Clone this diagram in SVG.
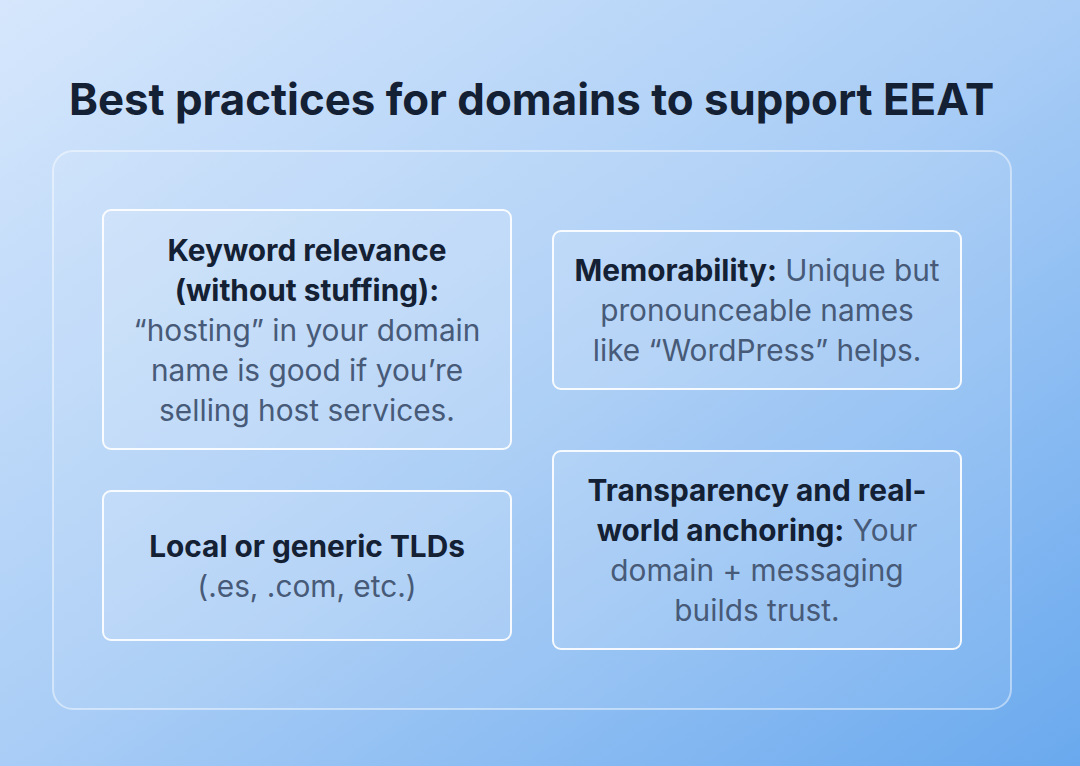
<svg xmlns="http://www.w3.org/2000/svg" width="1080" height="766" viewBox="0 0 1080 766">
<defs>
<linearGradient id="bg" x1="0" y1="0" x2="1" y2="1"><stop offset="0" stop-color="#d6e7fc"/><stop offset="0.5" stop-color="#a9cdf6"/><stop offset="1" stop-color="#6aa9ee"/></linearGradient>
<style>
.box{fill:#ffffff;fill-opacity:0.12;stroke:#ffffff;stroke-width:2;stroke-opacity:0.9}
.t{font-family:Inter,"Liberation Sans",sans-serif;font-size:29.8px;text-anchor:middle;fill:#475a78}
.b{font-weight:700;fill:#142033}
</style>
</defs>
<rect width="1080" height="766" fill="url(#bg)"/>
<text x="69" y="115" font-family="Inter,'Liberation Sans',sans-serif" font-size="43.8" font-weight="700" fill="#142033">Best practices for domains to support EEAT</text>
<rect x="53" y="151" width="958" height="558" rx="20" fill="#ffffff" fill-opacity="0.08" stroke="#ffffff" stroke-opacity="0.45" stroke-width="2"/>
<g id="n1"><rect class="box" x="103" y="210" width="408" height="239" rx="8"/>
<text class="t"><tspan class="b" x="307" y="261">Keyword relevance</tspan><tspan class="b" x="307" y="301">(without stuffing):</tspan><tspan x="307" y="341">“hosting” in your domain</tspan><tspan x="307" y="381">name is good if you’re</tspan><tspan x="307" y="421">selling host services.</tspan></text></g>
<g id="n2"><rect class="box" x="553" y="231" width="408" height="158" rx="8"/>
<text class="t"><tspan x="757" y="281"><tspan class="b">Memorability:</tspan> Unique but</tspan><tspan x="757" y="321">pronounceable names</tspan><tspan x="757" y="361">like “WordPress” helps.</tspan></text></g>
<g id="n3"><rect class="box" x="103" y="491" width="408" height="149" rx="8"/>
<text class="t"><tspan class="b" x="307" y="557">Local or generic TLDs</tspan><tspan x="307" y="597">(.es, .com, etc.)</tspan></text></g>
<g id="n4"><rect class="box" x="553" y="451" width="408" height="198" rx="8"/>
<text class="t"><tspan class="b" x="757" y="501">Transparency and real-</tspan><tspan x="757" y="541"><tspan class="b">world anchoring:</tspan> Your</tspan><tspan x="757" y="581">domain + messaging</tspan><tspan x="757" y="621">builds trust.</tspan></text></g>
<g id="connectors"/>
</svg>
